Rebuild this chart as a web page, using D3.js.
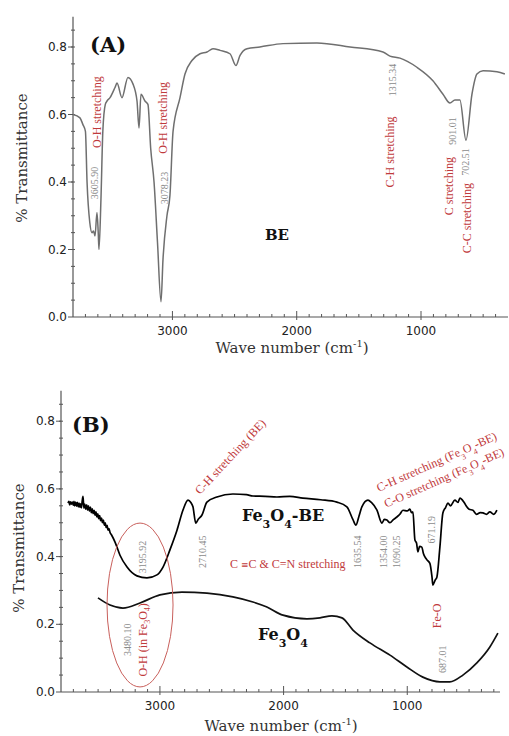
<!DOCTYPE html>
<html>
<head>
<meta charset="utf-8">
<script src="https://cdn.jsdelivr.net/npm/d3@7"></script>
<style>
  body { margin: 0; background: #fff; }
  svg { display: block; }
  .tick-lab { font-family: "DejaVu Sans", sans-serif; font-size: 12px; fill: #222; }
  .ax-title { font-family: "DejaVu Serif", serif; font-size: 15px; fill: #333; }
  .red { font-family: "Liberation Serif", serif; font-size: 12px; fill: #bf3a3c; }
  .gray { font-family: "Liberation Serif", serif; font-size: 10px; fill: #8a8a8a; }
  .bold { font-family: "DejaVu Serif", serif; font-weight: bold; fill: #111; }
</style>
</head>
<body>
<svg id="chart" width="509" height="736"></svg>
<script>
// wave numbers (cm-1) and transmittance
var beWave = [3800, 3744, 3720, 3700, 3687, 3665, 3647, 3635, 3623, 3607, 3597, 3591, 3575, 3560, 3540, 3526, 3502, 3462, 3446, 3406, 3358, 3317, 3285, 3269, 3253, 3221, 3197, 3175, 3148, 3120, 3092, 3076, 3044, 3020, 2995, 2939, 2899, 2843, 2778, 2722, 2674, 2617, 2537, 2489, 2456, 2400, 2296, 2110, 1837, 1571, 1306, 1250, 1169, 1033, 904, 823, 767, 727, 687, 638, 590, 550, 501, 389, 325];
var beVal  = [0.60, 0.59, 0.57, 0.55, 0.40, 0.28, 0.25, 0.255, 0.24, 0.31, 0.25, 0.20, 0.35, 0.55, 0.63, 0.64, 0.65, 0.68, 0.693, 0.65, 0.71, 0.69, 0.64, 0.56, 0.66, 0.64, 0.63, 0.50, 0.40, 0.22, 0.045, 0.17, 0.30, 0.36, 0.55, 0.65, 0.72, 0.76, 0.78, 0.785, 0.795, 0.79, 0.78, 0.745, 0.775, 0.795, 0.80, 0.81, 0.812, 0.80, 0.785, 0.773, 0.767, 0.74, 0.70, 0.66, 0.634, 0.643, 0.643, 0.524, 0.66, 0.72, 0.73, 0.727, 0.72];

var febeWave = [3743, 3736, 3730, 3722, 3715, 3708, 3700, 3695, 3690, 3682, 3675, 3668, 3660, 3654, 3648, 3641, 3635, 3628, 3622, 3615, 3608, 3600, 3592, 3585, 3578, 3570, 3562, 3555, 3547, 3540, 3532, 3525, 3517, 3510, 3502, 3495, 3487, 3480, 3472, 3465, 3457, 3450, 3442, 3435, 3427, 3420, 3412, 3404, 3390, 3363, 3323, 3266, 3186, 3105, 3024, 2975, 2919, 2862, 2814, 2773, 2750, 2733, 2710, 2690, 2660, 2620, 2539, 2410, 2300, 2248, 2150, 2054, 1950, 1844, 1700, 1569, 1488, 1440, 1415, 1390, 1367, 1318, 1290, 1245, 1205, 1185, 1165, 1140, 1110, 1084, 1060, 1035, 1000, 979, 965, 954, 938, 925, 914, 900, 882, 870, 857, 840, 817, 800, 793, 775, 760, 736, 712, 690, 671, 650, 615, 590, 574, 540, 518, 500, 469, 440, 410, 388, 360, 332, 300, 275];
var febeVal  = [0.558, 0.563, 0.553, 0.562, 0.555, 0.561, 0.552, 0.563, 0.550, 0.561, 0.549, 0.560, 0.547, 0.558, 0.546, 0.556, 0.544, 0.566, 0.578, 0.543, 0.555, 0.540, 0.553, 0.537, 0.550, 0.534, 0.546, 0.530, 0.541, 0.527, 0.537, 0.522, 0.532, 0.517, 0.526, 0.512, 0.521, 0.506, 0.514, 0.500, 0.508, 0.493, 0.500, 0.486, 0.492, 0.478, 0.483, 0.472, 0.463, 0.443, 0.404, 0.369, 0.343, 0.337, 0.346, 0.369, 0.420, 0.478, 0.537, 0.567, 0.560, 0.547, 0.499, 0.510, 0.523, 0.561, 0.576, 0.585, 0.583, 0.579, 0.578, 0.576, 0.578, 0.573, 0.568, 0.561, 0.547, 0.510, 0.493, 0.520, 0.547, 0.567, 0.560, 0.537, 0.499, 0.510, 0.508, 0.500, 0.510, 0.517, 0.525, 0.537, 0.535, 0.540, 0.530, 0.532, 0.449, 0.440, 0.414, 0.430, 0.428, 0.410, 0.399, 0.390, 0.380, 0.340, 0.316, 0.330, 0.340, 0.428, 0.529, 0.545, 0.558, 0.550, 0.567, 0.560, 0.573, 0.560, 0.547, 0.540, 0.537, 0.525, 0.530, 0.529, 0.525, 0.532, 0.525, 0.537];

var feWave = [3501, 3404, 3299, 3161, 3000, 2822, 2620, 2410, 2248, 2135, 2005, 1811, 1706, 1609, 1528, 1439, 1302, 1140, 1003, 874, 736, 655, 550, 437, 332, 267];
var feVal  = [0.278, 0.257, 0.248, 0.263, 0.287, 0.295, 0.292, 0.281, 0.266, 0.251, 0.227, 0.216, 0.219, 0.225, 0.219, 0.183, 0.145, 0.109, 0.074, 0.044, 0.030, 0.030, 0.050, 0.086, 0.133, 0.174];

var yTicks = [0, 0.2, 0.4, 0.6, 0.8];
var xTicks = [3000, 2000, 1000];

var svg = d3.select("#chart");

function drawPanel(p) {
  var x = d3.scaleLinear().domain(p.xDomain).range([p.left, p.right]);
  var y = d3.scaleLinear().domain([0, 0.89]).range([p.bottom, p.bottom - 0.89 * p.unit]);
  var g = svg.append("g");

  // axis lines
  g.append("line").attr("x1", p.left).attr("x2", p.left).attr("y1", y(0.89)).attr("y2", p.bottom)
    .attr("stroke", "#555").attr("stroke-width", 1.2);
  g.append("line").attr("x1", p.left).attr("x2", p.right).attr("y1", p.bottom).attr("y2", p.bottom)
    .attr("stroke", "#555").attr("stroke-width", 1.2);

  // minor ticks
  var xMinor = d3.range(3700, p.xDomain[1], -100);
  g.selectAll(".xm").data(xMinor).enter().append("line")
    .attr("x1", d => x(d)).attr("x2", d => x(d))
    .attr("y1", p.bottom).attr("y2", d => p.bottom - (d % 1000 === 0 ? 6 : 3))
    .attr("stroke", "#555");
  g.selectAll(".xmb").data(xTicks).enter().append("line")
    .attr("x1", d => x(d)).attr("x2", d => x(d))
    .attr("y1", p.bottom).attr("y2", p.bottom + 3).attr("stroke", "#555");
  var yMinor = d3.range(0.05, 0.89, 0.05);
  g.selectAll(".ym").data(yMinor).enter().append("line")
    .attr("x1", p.left - 2).attr("x2", p.left + 2)
    .attr("y1", d => y(d)).attr("y2", d => y(d)).attr("stroke", "#555");
  g.selectAll(".yM").data(yTicks).enter().append("line")
    .attr("x1", p.left - 5).attr("x2", p.left)
    .attr("y1", d => y(d)).attr("y2", d => y(d)).attr("stroke", "#555");

  g.selectAll(".yl").data(yTicks).enter().append("text").attr("class", "tick-lab")
    .attr("x", p.left - 6).attr("y", d => y(d) + 4).attr("text-anchor", "end")
    .text(d => d3.format(".1f")(d));
  g.selectAll(".xl").data(xTicks).enter().append("text").attr("class", "tick-lab")
    .attr("x", d => x(d)).attr("y", p.bottom + 18).attr("text-anchor", "middle")
    .text(d => d);

  // axis titles
  var xt = g.append("text").attr("class", "ax-title").attr("x", p.xTitle[0]).attr("y", p.xTitle[1])
    .attr("text-anchor", "middle");
  xt.append("tspan").text("Wave number (cm");
  xt.append("tspan").attr("font-size", "10px").attr("dy", -6).text("-1");
  xt.append("tspan").attr("dy", 6).text(")");
  g.append("text").attr("class", "ax-title")
    .attr("transform", "translate(" + p.yTitle[0] + "," + p.yTitle[1] + ") rotate(-90)")
    .attr("text-anchor", "middle").text("% Transmittance");

  g.append("text").attr("class", "bold").attr("font-size", "21px")
    .attr("x", p.letter[0]).attr("y", p.letter[1]).text(p.letter[2]);

  var line = d3.line().x(d => x(d[0])).y(d => y(d[1])).curve(d3.curveMonotoneX);
  p.series.forEach(function(s) {
    g.append("path").datum(d3.zip(s.wave, s.val))
      .attr("d", line).attr("fill", "none")
      .attr("stroke", s.color).attr("stroke-width", s.width).attr("stroke-linejoin", "round");
  });

  if (p.ellipse) {
    var e = p.ellipse;
    g.append("ellipse").attr("cx", x(e[0])).attr("cy", y(e[1]))
      .attr("rx", Math.abs(x(e[0] + e[2]) - x(e[0]))).attr("ry", Math.abs(y(e[3]) - y(0)))
      .attr("fill", "none").attr("stroke", "#c9605c").attr("stroke-width", 1);
  }

  p.notes.forEach(function(n) {
    var t = g.append("text").attr("class", n.cls)
      .attr("transform", "translate(" + x(n.w) + "," + y(n.v) + ") rotate(" + n.rot + ")")
      .attr("text-anchor", n.anchor || "middle")
      .attr("dominant-baseline", n.rot === -90 ? "central" : "auto");
    if (n.size) t.attr("font-size", n.size);
    n.parts.forEach(function(part) {
      if (typeof part === "string") t.append("tspan").text(part);
      else if (part.sym) t.append("tspan").attr("font-family", "DejaVu Serif").attr("font-size", "9px").text(part.sym);
      else t.append("tspan").attr("baseline-shift", "sub").attr("font-size", part.fs).text(part.sub);
    });
  });
}

drawPanel({
  xDomain: [3800, 300], left: 73, right: 508, bottom: 317, unit: 337.5,
  xTitle: [292, 353], yTitle: [27, 158], letter: [90, 52, "(A)"],
  series: [{ wave: beWave, val: beVal, color: "#6f6f6f", width: 1.5 }],
  notes: [
    { cls: "red", w: 3607, v: 0.607, rot: -90, parts: ["O-H stretching"] },
    { cls: "gray", w: 3631, v: 0.397, rot: -90, parts: ["3605.90"] },
    { cls: "red", w: 3076, v: 0.59, rot: -90, parts: ["O-H stretching"] },
    { cls: "gray", w: 3068, v: 0.382, rot: -90, parts: ["3078.23"] },
    { cls: "gray", w: 1234, v: 0.702, rot: -90, parts: ["1315.34"] },
    { cls: "red", w: 1250, v: 0.489, rot: -90, parts: ["C-H stretching"] },
    { cls: "gray", w: 751, v: 0.551, rot: -90, parts: ["901.01"] },
    { cls: "gray", w: 646, v: 0.459, rot: -90, parts: ["702.51"] },
    { cls: "red", w: 775, v: 0.388, rot: -90, parts: ["C stretching"] },
    { cls: "red", w: 630, v: 0.293, rot: -90, parts: ["C-C stretching"] },
    { cls: "bold", w: 2159, v: 0.228, rot: 0, size: "15px", parts: ["BE"] }
  ]
});

drawPanel({
  xDomain: [3800, 250], left: 61, right: 500, bottom: 692, unit: 338.5,
  xTitle: [281, 731], yTitle: [24, 548], letter: [72, 432, "(B)"],
  series: [
    { wave: febeWave, val: febeVal, color: "#000", width: 1.7 },
    { wave: feWave, val: feVal, color: "#111", width: 1.7 }
  ],
  ellipse: [3161, 0.257, 267, 0.242],
  notes: [
    { cls: "red", w: 2676, v: 0.582, rot: -47, anchor: "start", size: "12.5px", parts: ["C-H stretching (BE)"] },
    { cls: "gray", w: 3145, v: 0.399, rot: -90, parts: ["3195.92"] },
    { cls: "gray", w: 2660, v: 0.414, rot: -90, parts: ["2710.45"] },
    { cls: "bold", w: 2337, v: 0.505, rot: 0, anchor: "start", size: "16px", parts: ["Fe", { sub: "3", fs: "11px" }, "O", { sub: "4", fs: "11px" }, "-BE"] },
    { cls: "red", w: 2434, v: 0.366, rot: 0, anchor: "start", size: "11px", parts: ["C ", { sym: "\u2261" }, "C & C=N stretching"] },
    { cls: "gray", w: 1407, v: 0.414, rot: -90, parts: ["1635.54"] },
    { cls: "gray", w: 1197, v: 0.414, rot: -90, parts: ["1354.00"] },
    { cls: "gray", w: 1092, v: 0.414, rot: -90, parts: ["1090.25"] },
    { cls: "gray", w: 809, v: 0.479, rot: -90, parts: ["671.19"] },
    { cls: "red", w: 1230, v: 0.591, rot: -24, anchor: "start", size: "11px", parts: ["C-H stretching (Fe", { sub: "3", fs: "8px" }, "O", { sub: "4", fs: "8px" }, "-BE)"] },
    { cls: "red", w: 1170, v: 0.544, rot: -24, anchor: "start", size: "11px", parts: ["C-O stretching (Fe", { sub: "3", fs: "8px" }, "O", { sub: "4", fs: "8px" }, "-BE)"] },
    { cls: "red", w: 760, v: 0.225, rot: -90, size: "12px", parts: ["Fe-O"] },
    { cls: "gray", w: 720, v: 0.097, rot: -90, parts: ["687.01"] },
    { cls: "bold", w: 2207, v: 0.155, rot: 0, anchor: "start", size: "16px", parts: ["Fe", { sub: "3", fs: "11px" }, "O", { sub: "4", fs: "11px" }] },
    { cls: "gray", w: 3266, v: 0.154, rot: -90, parts: ["3480.10"] },
    { cls: "red", w: 3137, v: 0.154, rot: -90, parts: ["O-H (in Fe", { sub: "3", fs: "8px" }, "O", { sub: "4", fs: "8px" }, ")"] }
  ]
});
</script>
</body>
</html>
